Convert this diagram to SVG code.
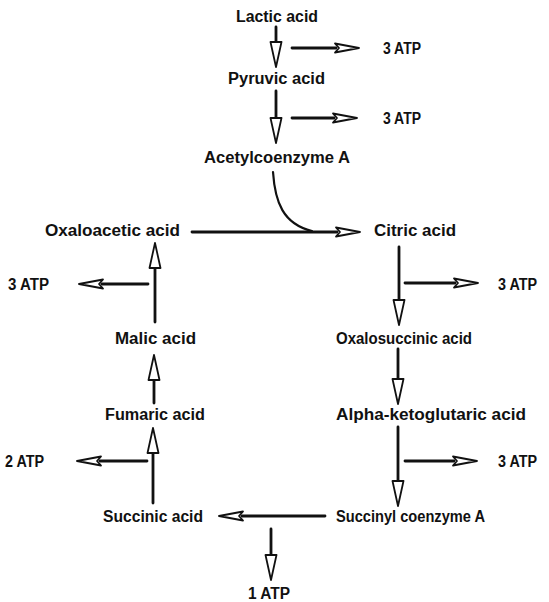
<svg xmlns="http://www.w3.org/2000/svg" xmlns:xlink="http://www.w3.org/1999/xlink" width="549" height="602" viewBox="0 0 549 602">
<style>
.t{font-family:"Liberation Sans",Arial,sans-serif;font-weight:bold;font-size:16px;fill:#111}
.s{stroke:#111;stroke-width:2.8;fill:none;stroke-linecap:round}
.c{stroke:#111;stroke-width:2.2;fill:none;stroke-linecap:round}
.h{fill:#fff;stroke:#111;stroke-width:1.8;stroke-linejoin:round}
</style>
<defs>
<path id="hh" d="M0,0 L-24,-4.5 L-20,0 L-24,4.5 Z"/>
<path id="hv" d="M0,0 L-25,-5.5 L-25,5.5 Z"/>
</defs>
<rect width="549" height="602" fill="#fff"/>
<g id="connectors">
<!-- Lactic -> Pyruvic -->
<line class="s" x1="276" y1="27" x2="276" y2="43"/>
<use href="#hv" class="h" transform="translate(276,67) rotate(90)"/>
<line class="s" x1="292" y1="48" x2="336" y2="48"/>
<use href="#hh" class="h" transform="translate(359,48)"/>
<!-- Pyruvic -> Acetyl -->
<line class="s" x1="276" y1="91" x2="276" y2="119"/>
<use href="#hv" class="h" transform="translate(276,143) rotate(90)"/>
<line class="s" x1="292" y1="118" x2="334" y2="118"/>
<use href="#hh" class="h" transform="translate(357,118)"/>
<!-- Acetyl curve into citric -->
<path class="c" d="M273,172 C275,202 283,224 312,231"/>
<!-- Oxaloacetic -> Citric -->
<line class="s" x1="192" y1="232" x2="337" y2="232"/>
<use href="#hh" class="h" transform="translate(360,232)"/>
<!-- Citric -> Oxalosuccinic -->
<line class="s" x1="399" y1="247" x2="399" y2="301"/>
<use href="#hv" class="h" transform="translate(399,325) rotate(90)"/>
<line class="s" x1="405" y1="283" x2="455" y2="283"/>
<use href="#hh" class="h" transform="translate(478,283)"/>
<!-- Oxalosuccinic -> Alpha -->
<line class="s" x1="398" y1="349" x2="398" y2="380"/>
<use href="#hv" class="h" transform="translate(398,404) rotate(90)"/>
<!-- Alpha -> Succinyl -->
<line class="s" x1="398" y1="427" x2="398" y2="482"/>
<use href="#hv" class="h" transform="translate(398,506) rotate(90)"/>
<line class="s" x1="405" y1="461" x2="454" y2="461"/>
<use href="#hh" class="h" transform="translate(477,461)"/>
<!-- Succinyl -> Succinic -->
<line class="s" x1="325" y1="516" x2="242" y2="516"/>
<use href="#hh" class="h" transform="translate(219,516) rotate(180)"/>
<line class="s" x1="271" y1="529" x2="271" y2="556"/>
<use href="#hv" class="h" transform="translate(271,580) rotate(90)"/>
<!-- Succinic -> Fumaric -->
<line class="s" x1="153" y1="503" x2="153" y2="452"/>
<use href="#hv" class="h" transform="translate(153,428) rotate(-90)"/>
<line class="s" x1="147" y1="461" x2="100" y2="461"/>
<use href="#hh" class="h" transform="translate(77,461) rotate(180)"/>
<!-- Fumaric -> Malic -->
<line class="s" x1="154" y1="403" x2="154" y2="379"/>
<use href="#hv" class="h" transform="translate(154,355) rotate(-90)"/>
<!-- Malic -> Oxaloacetic -->
<line class="s" x1="155" y1="322" x2="155" y2="267"/>
<use href="#hv" class="h" transform="translate(155,243) rotate(-90)"/>
<line class="s" x1="148" y1="284" x2="102" y2="284"/>
<use href="#hh" class="h" transform="translate(79,284) rotate(180)"/>
</g>
<g id="lactic"><text class="t" x="236" y="22" textLength="82" lengthAdjust="spacingAndGlyphs">Lactic acid</text></g>
<g id="atp1"><text class="t" x="383" y="54" textLength="38" lengthAdjust="spacingAndGlyphs">3 ATP</text></g>
<g id="pyruvic"><text class="t" x="228" y="84" textLength="97" lengthAdjust="spacingAndGlyphs">Pyruvic acid</text></g>
<g id="atp2"><text class="t" x="383" y="124" textLength="38" lengthAdjust="spacingAndGlyphs">3 ATP</text></g>
<g id="acetyl"><text class="t" x="204" y="163" textLength="146" lengthAdjust="spacingAndGlyphs">Acetylcoenzyme A</text></g>
<g id="oxaloacetic"><text class="t" x="45" y="236" textLength="135" lengthAdjust="spacingAndGlyphs">Oxaloacetic acid</text></g>
<g id="citric"><text class="t" x="374" y="236" textLength="82" lengthAdjust="spacingAndGlyphs">Citric acid</text></g>
<g id="atp3l"><text class="t" x="8" y="290" textLength="41" lengthAdjust="spacingAndGlyphs">3 ATP</text></g>
<g id="atp3r"><text class="t" x="498" y="290" textLength="39" lengthAdjust="spacingAndGlyphs">3 ATP</text></g>
<g id="malic"><text class="t" x="115" y="344" textLength="81" lengthAdjust="spacingAndGlyphs">Malic acid</text></g>
<g id="oxalosuccinic"><text class="t" x="336" y="344" textLength="136" lengthAdjust="spacingAndGlyphs">Oxalosuccinic acid</text></g>
<g id="fumaric"><text class="t" x="105" y="420" textLength="100" lengthAdjust="spacingAndGlyphs">Fumaric acid</text></g>
<g id="alpha"><text class="t" x="336" y="420" textLength="190" lengthAdjust="spacingAndGlyphs">Alpha-ketoglutaric acid</text></g>
<g id="atp2l"><text class="t" x="5" y="467" textLength="39" lengthAdjust="spacingAndGlyphs">2 ATP</text></g>
<g id="atp3r2"><text class="t" x="498" y="467" textLength="39" lengthAdjust="spacingAndGlyphs">3 ATP</text></g>
<g id="succinic"><text class="t" x="103" y="522" textLength="100" lengthAdjust="spacingAndGlyphs">Succinic acid</text></g>
<g id="succinyl"><text class="t" x="336" y="522" textLength="149" lengthAdjust="spacingAndGlyphs">Succinyl coenzyme A</text></g>
<g id="atp1b"><text class="t" x="248" y="599" textLength="42" lengthAdjust="spacingAndGlyphs">1 ATP</text></g>
</svg>
